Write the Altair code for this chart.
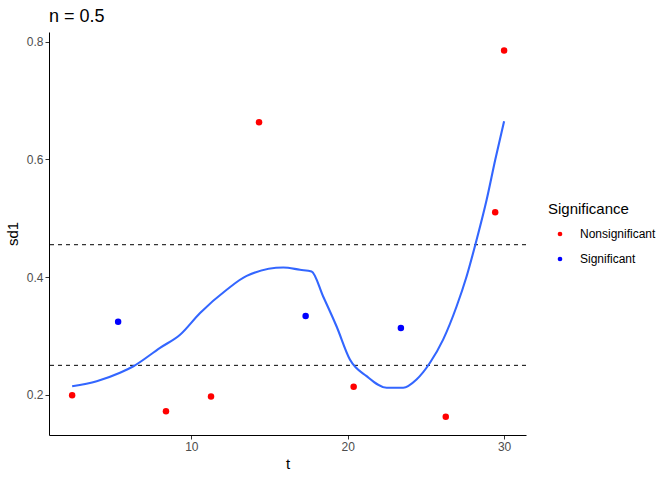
import altair as alt
import pandas as pd

# Observed points
t_vals = [2.38, 5.32, 8.38, 11.26, 14.33, 17.31, 20.38, 23.40, 26.27, 29.43, 30.0]
sd1_vals = [0.199, 0.324, 0.172, 0.197, 0.663, 0.334, 0.2136, 0.3136, 0.1627, 0.510, 0.785]
significance = ["Nonsignificant", "Significant", "Nonsignificant", "Nonsignificant",
                "Nonsignificant", "Significant", "Nonsignificant", "Significant",
                "Nonsignificant", "Nonsignificant", "Nonsignificant"]

# Smooth curve
curve_t = [2.38, 3.95, 5.44, 6.30, 8.0, 9.28, 10.56, 12.26, 13.54, 15.88, 16.95, 17.69,
           18.43, 19.29, 20.14, 21.21, 22.49, 23.55, 24.40, 25.25, 26.10, 26.96, 27.6,
           28.24, 28.88, 29.43, 30.0]
curve_sd = [0.2146, 0.223, 0.2373, 0.2485, 0.2797, 0.302, 0.339, 0.3785, 0.402, 0.4163,
            0.4124, 0.4095, 0.367, 0.316, 0.260, 0.2316, 0.212, 0.212, 0.226, 0.254,
            0.2937, 0.350, 0.401, 0.4632, 0.531, 0.599, 0.665]

# Threshold lines
thresholds = [0.455, 0.25]

pts = pd.DataFrame({"t": t_vals, "sd1": sd1_vals, "Significance": significance})
crv = pd.DataFrame({"t": curve_t, "sd1": curve_sd})
thr = pd.DataFrame({"y": thresholds})

FONT = "Liberation Sans"
xscale = alt.Scale(domain=[0.9, 31.4], nice=False, zero=False)
yscale = alt.Scale(domain=[0.1316, 0.8165], nice=False, zero=False)

xaxis = alt.Axis(values=[10, 20, 30], grid=False, title="t", domainColor="black",
                 tickColor="#333333", tickSize=4, labelColor="#4D4D4D", labelFontSize=12,
                 labelFont=FONT, titleFont=FONT, titleFontSize=15, titleFontWeight="normal",
                 titleColor="black", labelPadding=2, titlePadding=4)
yaxis = alt.Axis(values=[0.2, 0.4, 0.6, 0.8], grid=False, title="sd1", domainColor="black",
                 tickColor="#333333", tickSize=4, labelColor="#4D4D4D", labelFontSize=12,
                 labelFont=FONT, titleFont=FONT, titleFontSize=15, titleFontWeight="normal",
                 titleColor="black", labelPadding=2, titlePadding=6, format=".1f")

points = alt.Chart(pts).mark_circle(size=42, opacity=1).encode(
    x=alt.X("t:Q", scale=xscale, axis=xaxis),
    y=alt.Y("sd1:Q", scale=yscale, axis=yaxis),
    color=alt.Color("Significance:N",
                    scale=alt.Scale(domain=["Nonsignificant", "Significant"], range=["#FF0000", "#0000FF"]),
                    legend=alt.Legend(title="Significance", orient="none", legendX=499, legendY=170,
                                      titleFont=FONT, titleFontSize=15, titleFontWeight="normal",
                                      titleColor="black", labelFont=FONT, labelFontSize=12,
                                      labelColor="black", symbolType="circle", symbolSize=22,
                                      symbolOffset=6, rowPadding=13, titlePadding=11,
                                      labelOffset=14)),
)

line = alt.Chart(crv).mark_line(color="#3366FF", strokeWidth=2.1, interpolate="monotone").encode(
    x=alt.X("t:Q", scale=xscale),
    y=alt.Y("sd1:Q", scale=yscale),
)

rules = alt.Chart(thr).mark_rule(color="black", strokeDash=[4, 4], strokeWidth=1).encode(
    y=alt.Y("y:Q", scale=yscale)
)

chart = alt.layer(rules, line, points).properties(
    width=477, height=403,
    background="white",
    title=alt.TitleParams("n = 0.5", anchor="start", frame="group", font=FONT, fontSize=18,
                          fontWeight="normal", color="black", offset=6),
    autosize=alt.AutoSizeParams(type="none"),
    padding={"left": 49, "top": 32, "right": 146, "bottom": 45},
).configure_view(stroke="transparent", strokeWidth=0)

chart.save("out.html", embed_options={"renderer": "svg", "actions": False})
